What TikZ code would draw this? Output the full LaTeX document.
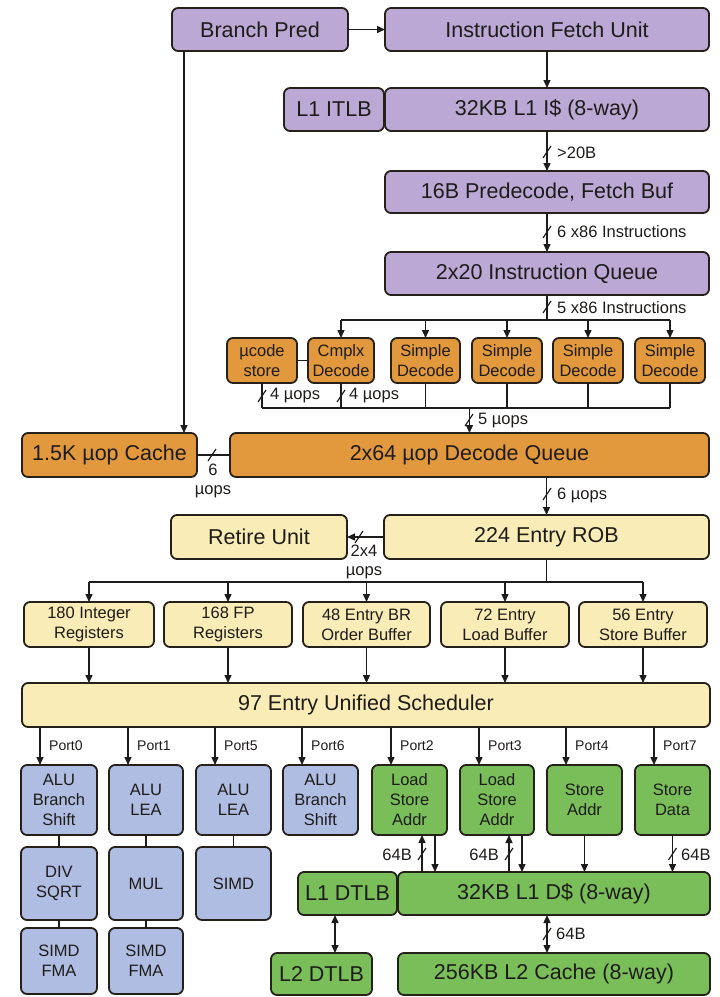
\documentclass[tikz,border=0pt]{standalone}
\usepackage{fontspec}
\setmainfont{Liberation Sans}
\usetikzlibrary{arrows.meta,calc}

\definecolor{ink}{RGB}{30,28,26}
\definecolor{edge}{RGB}{38,32,26}
\definecolor{fetchc}{RGB}{187,168,212}
\definecolor{decc}{RGB}{226,152,60}
\definecolor{oooc}{RGB}{250,236,182}
\definecolor{execc}{RGB}{176,189,226}
\definecolor{memc}{RGB}{122,190,90}

\tikzset{
  blk/.style={draw=edge, line width=1.8pt, rounded corners=6pt, inner sep=0pt,
    outer sep=0pt, align=center, text=ink},
  big/.style={font=\fontsize{21.5}{24}\selectfont},
  mid/.style={font=\fontsize{16.5}{20}\selectfont},
  conn/.style={line width=1.4pt, draw=ink},
  arr/.style={conn, -{Triangle[length=8pt,width=7pt]}},
  darr/.style={conn, {Triangle[length=8pt,width=7pt]}-{Triangle[length=8pt,width=7pt]}},
  lbl/.style={font=\fontsize{16.5}{19}\selectfont, text=ink, inner sep=0pt, align=center},
  portlbl/.style={font=\fontsize{14}{16}\selectfont, text=ink, inner sep=0pt, anchor=west},
  bus/.pic={\draw[line width=1.2pt, draw=ink] (-4,6) -- (4,-6);}
}

% block from its corners: style, x1, y1, x2, y2, name, text
\newcommand\mkbox[7]{%
  \node[blk,#1,minimum width={(#4-#2)*1pt},minimum height={(#5-#3)*1pt}]
    (#6) at ({(#2+#4)/2},{(#3+#5)/2}) {#7};}

\begin{document}
\begin{tikzpicture}[x=1pt,y=-1pt]
\useasboundingbox (0,0) rectangle (720,997);

% ---------------- front end ----------------
\mkbox{fill=fetchc,big}{172}{8}{348}{51}{bp}{Branch Pred}
\mkbox{fill=fetchc,big}{385}{8}{709}{51}{ifu}{Instruction Fetch Unit}
\mkbox{fill=fetchc,big}{284}{88}{384}{131}{itlb}{L1 ITLB}
\mkbox{fill=fetchc,big}{385}{88}{709}{131}{l1i}{32KB L1 I\$ (8-way)}
\mkbox{fill=fetchc,big}{385}{171}{709}{213}{pdec}{16B Predecode, Fetch Buf}
\mkbox{fill=fetchc,big}{385}{252}{709}{295}{iq}{2x20 Instruction Queue}

\draw[arr] (bp.east) -- (ifu.west);
\draw[arr] (ifu.south) -- (l1i.north);
\draw[arr] (l1i.south) -- (pdec.north);
\pic at (547,152) {bus};
\node[lbl,anchor=west] (lg1) at (557,153) {>20B};
\draw[arr] (pdec.south) -- (iq.north);
\pic at (547,232) {bus};
\node[lbl,anchor=west] (lg2) at (557,232) {6 x86 Instructions};

% ---------------- decoders ----------------
\mkbox{fill=decc,mid}{227}{338}{297}{383}{uc}{µcode\\store}
\mkbox{fill=decc,mid}{308}{338}{374}{383}{cx}{Cmplx\\Decode}
\mkbox{fill=decc,mid}{391}{338}{460}{383}{s1}{Simple\\Decode}
\mkbox{fill=decc,mid}{472}{338}{542}{383}{s2}{Simple\\Decode}
\mkbox{fill=decc,mid}{553}{338}{623}{383}{s3}{Simple\\Decode}
\mkbox{fill=decc,mid}{635}{338}{705}{383}{s4}{Simple\\Decode}

\coordinate (dbus) at (547,320);
\draw[conn] (iq.south) -- (dbus);
\pic at (547,307) {bus};
\node[lbl,anchor=west] (lg3) at (557,308) {5 x86 Instructions};
\draw[conn] (dbus -| cx.north) -- (dbus -| s4.north);
\foreach \n in {cx,s1,s2,s3,s4} \draw[arr] (dbus -| \n.north) -- (\n.north);
\draw[conn] (uc.east) -- (cx.west);

\coordinate (ubus) at (0,408);
\foreach \n in {uc,cx,s1,s2,s3,s4} \draw[conn] (\n.south) -- (\n.south |- ubus);
\draw[conn] (uc.south |- ubus) -- (s4.south |- ubus);
\pic at (262,396) {bus};
\node[lbl,anchor=west] (lg4) at (270,396) {4 µops};
\pic at (341,396) {bus};
\node[lbl,anchor=west] (lg5) at (349,396) {4 µops};

% ---------------- µop queue ----------------
\mkbox{fill=decc,big}{22}{433}{197}{477}{uop}{1.5K µop Cache}
\mkbox{fill=decc,big}{230}{433}{709}{477}{dq}{2x64 µop Decode Queue}

\draw[arr] (dq.north |- ubus) -- (dq.north);
\pic at (469,420) {bus};
\node[lbl,anchor=west] (lg6) at (478,421) {5 µops};

\coordinate (bpd) at ($(bp.south west)+(12,0)$);
\draw[arr] (bpd) -- (bpd |- uop.north);
\draw[conn] (uop.east) -- (dq.west);
\pic at (212,455) {bus};
\node[lbl] (lg7) at (213,481) {6\\µops};

% ---------------- out-of-order ----------------
\mkbox{fill=oooc,big}{171}{515}{347}{559}{ret}{Retire Unit}
\mkbox{fill=oooc,big}{384}{515}{709}{559}{rob}{224 Entry ROB}

\draw[arr] (dq.south -| rob.north) -- (rob.north);
\pic at (547,494) {bus};
\node[lbl,anchor=west] (lg8) at (557,495) {6 µops};
\draw[arr] (rob.west) -- (ret.east);
\pic at (359,537) {bus};
\node[lbl] (lg9) at (364,562) {2x4\\µops};

\mkbox{fill=oooc,mid}{24}{602}{154}{647}{r1}{180 Integer\\Registers}
\mkbox{fill=oooc,mid}{164}{602}{292}{647}{r2}{168 FP\\Registers}
\mkbox{fill=oooc,mid}{303}{602}{430}{647}{r3}{48 Entry BR\\Order Buffer}
\mkbox{fill=oooc,mid}{441}{602}{569}{647}{r4}{72 Entry\\Load Buffer}
\mkbox{fill=oooc,mid}{579}{602}{707}{647}{r5}{56 Entry\\Store Buffer}
\mkbox{fill=oooc,big}{22}{683}{710}{727}{sched}{97 Entry Unified Scheduler}

\coordinate (rbus) at (0,582);
\draw[conn] (rob.south) -- (rob.south |- rbus);
\draw[conn] (r1.north |- rbus) -- (r5.north |- rbus);
\foreach \n in {r1,r2,r3,r4,r5} {
  \draw[arr] (\n.north |- rbus) -- (\n.north);
  \draw[arr] (\n.south) -- (\n.south |- sched.north);
}

% ---------------- execution ports ----------------
\mkbox{fill=execc,mid}{21}{765}{97}{835}{e0}{ALU\\Branch\\Shift}
\mkbox{fill=execc,mid}{109}{765}{183}{835}{e1}{ALU\\LEA}
\mkbox{fill=execc,mid}{196}{765}{271}{835}{e2}{ALU\\LEA}
\mkbox{fill=execc,mid}{283}{765}{358}{835}{e3}{ALU\\Branch\\Shift}
\mkbox{fill=memc,mid}{372}{765}{447}{835}{e4}{Load\\Store\\Addr}
\mkbox{fill=memc,mid}{460}{765}{534}{835}{e5}{Load\\Store\\Addr}
\mkbox{fill=memc,mid}{547}{765}{622}{835}{e6}{Store\\Addr}
\mkbox{fill=memc,mid}{635}{765}{710}{835}{e7}{Store\\Data}

\mkbox{fill=execc,mid}{21}{847}{97}{920}{f0}{DIV\\SQRT}
\mkbox{fill=execc,mid}{109}{847}{183}{920}{f1}{MUL}
\mkbox{fill=execc,mid}{196}{847}{271}{920}{f2}{SIMD}
\mkbox{fill=execc,mid}{21}{928}{97}{994}{g0}{SIMD\\FMA}
\mkbox{fill=execc,mid}{109}{928}{183}{994}{g1}{SIMD\\FMA}

\foreach \n/\p in {e0/Port0,e1/Port1,e2/Port5,e3/Port6,e4/Port2,e5/Port3,e6/Port4,e7/Port7} {
  \coordinate (p\n) at ($(\n.north west)+(19,0)$);
  \draw[arr] (p\n |- sched.south) -- (p\n);
  \node[portlbl] (l\n) at ($(p\n |- sched.south)+(9,19)$) {\p};
}

\draw[conn] (e0.south) -- (f0.north);
\draw[conn] (f0.south) -- (g0.north);
\draw[conn] (e1.south) -- (f1.north);
\draw[conn] (f1.south) -- (g1.north);
\draw[conn] (e2.south) -- (f2.north);

% ---------------- memory ----------------
\mkbox{fill=memc,big}{298}{872}{397}{915}{dtlb1}{L1 DTLB}
\mkbox{fill=memc,big}{398}{872}{710}{915}{l1d}{32KB L1 D\$ (8-way)}
\mkbox{fill=memc,big}{271}{953}{372}{995}{dtlb2}{L2 DTLB}
\mkbox{fill=memc,big}{398}{953}{710}{995}{l2}{256KB L2 Cache (8-way)}

\coordinate (u4) at ($(e4.south)+(12.5,0)$);
\coordinate (d4) at ($(e4.south)+(25.5,0)$);
\draw[arr] (u4 |- l1d.north) -- (u4);
\draw[arr] (d4) -- (d4 |- l1d.north);
\pic at (u4 |- 0,854) {bus};
\node[lbl,anchor=east] (lm1) at (412,855) {64B};

\coordinate (u5) at ($(e5.south)+(12,0)$);
\coordinate (d5) at ($(e5.south)+(25,0)$);
\draw[arr] (u5 |- l1d.north) -- (u5);
\draw[arr] (d5) -- (d5 |- l1d.north);
\pic at (u5 |- 0,854) {bus};
\node[lbl,anchor=east] (lm2) at (499,855) {64B};

\draw[arr] (e6.south) -- (e6.south |- l1d.north);
\draw[arr] (e7.south) -- (e7.south |- l1d.north);
\pic at (e7.south |- 0,854) {bus};
\node[lbl,anchor=west] (lm3) at (681,855) {64B};

\coordinate (dt) at (335,0);
\draw[darr] (dt |- dtlb1.south) -- (dt |- dtlb2.north);
\coordinate (lc) at (547,0);
\draw[darr] (lc |- l1d.south) -- (lc |- l2.north);
\pic at (547,934) {bus};
\node[lbl,anchor=west] (lm4) at (556,934) {64B};

\end{tikzpicture}
\end{document}
